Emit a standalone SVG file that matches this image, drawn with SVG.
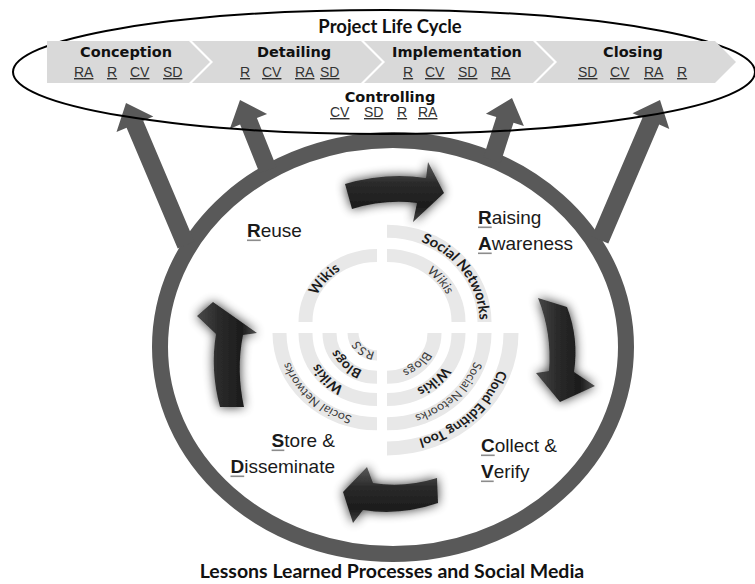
<svg xmlns="http://www.w3.org/2000/svg" width="755" height="584" viewBox="0 0 755 584">
  <defs>
    <style>
      .chev{fill:#d9d9d9}
      .ph{font-family:"DejaVu Sans",Verdana,sans-serif;font-weight:bold;font-size:14.5px;fill:#111;text-anchor:middle}
      .tag{font-family:"Liberation Sans",Arial,sans-serif;font-size:14px;fill:#333;text-decoration:underline}
      .ring{fill:none;stroke:#595959;stroke-width:16}
      .branch{fill:#595959}
      .band{fill:none;stroke:#e8e8e8;stroke-width:14}
      .lb{font-family:Lato,"Open Sans",sans-serif;font-weight:bold;fill:#1a1a1a;text-anchor:middle}
      .ln{font-family:Lato,"Open Sans",sans-serif;font-weight:normal;fill:#3a3a3a;text-anchor:middle}
      .step{font-family:"Liberation Sans",Arial,sans-serif;font-size:19px;fill:#1a1a1a}
      .k{font-weight:bold}
      .ul{fill:#8c8c8c}
      .title{font-family:Lato,"Open Sans",sans-serif;font-weight:bold;fill:#111;text-anchor:middle}
      .cyc{filter:url(#glow)}
    </style>
    <linearGradient id="shadeH" x1="0" y1="0" x2="0" y2="1">
      <stop offset="0" stop-color="#5a5a5a"/>
      <stop offset="0.35" stop-color="#2b2b2b"/>
      <stop offset="0.75" stop-color="#1c1c1c"/>
      <stop offset="1" stop-color="#444"/>
    </linearGradient>
    <linearGradient id="shadeV" x1="0" y1="0" x2="1" y2="0">
      <stop offset="0" stop-color="#4a4a4a"/>
      <stop offset="0.35" stop-color="#2b2b2b"/>
      <stop offset="0.75" stop-color="#1c1c1c"/>
      <stop offset="1" stop-color="#505050"/>
    </linearGradient>
    <filter id="glow" x="-50%" y="-50%" width="200%" height="200%">
      <feGaussianBlur in="SourceAlpha" stdDeviation="5.5" result="b"/>
      <feComponentTransfer in="b" result="s"><feFuncA type="linear" slope="0.8"/></feComponentTransfer>
      <feMerge><feMergeNode in="s"/><feMergeNode in="SourceGraphic"/></feMerge>
    </filter>
    <!-- baseline arcs for the tool labels, in quadrant-local coordinates -->
    <path id="q1sn" d="M8.07,-92.15 A92.5,92.5 0 0 1 89.35,23.94"/>
    <path id="q1wk" d="M0,-66.5 A66.5,66.5 0 0 1 65.49,11.55"/>
    <path id="q2wk" d="M-65.68,10.4 A66.5,66.5 0 0 1 1.16,-66.49"/>
    <path id="q3rss" d="M4.84,19.41 A20,20 0 0 1 -19.95,1.4"/>
    <path id="q3bl" d="M5.18,42.18 A42.5,42.5 0 0 1 -42.44,-2.22"/>
    <path id="q3wk" d="M5.8,66.25 A66.5,66.5 0 0 1 -66.25,-5.8"/>
    <path id="q3sn" d="M11.27,91.81 A92.5,92.5 0 0 1 -92.37,-4.84"/>
    <path id="q4bl" d="M42.47,-1.48 A42.5,42.5 0 0 1 -5.91,42.09"/>
    <path id="q4wk" d="M66.46,-2.32 A66.5,66.5 0 0 1 -9.25,65.85"/>
    <path id="q4sn" d="M92.27,-6.45 A92.5,92.5 0 0 1 -9.67,91.99"/>
    <path id="q4ct" d="M117.84,-6.18 A118,118 0 0 1 -14.38,117.12"/>
  </defs>

  <rect width="755" height="584" fill="#fff"/>

  <!-- lessons-learned ring with branches up to the project phases -->
  <g id="cycle-ring">
    <ellipse class="ring" cx="393" cy="347" rx="233" ry="207"/>
  </g>
  <g id="connectors">
    <polygon class="branch" points="177.7,248.5 126.6,127.7 116.5,132 126,103 153.3,116.4 143.2,120.7 194.3,241.5"/>
    <polygon class="branch" points="259.6,173.3 240.1,124.6 229.9,128.7 240,100 267.1,113.9 256.9,118 276.4,166.7"/>
    <polygon class="branch" points="483.4,157.2 496.3,117.1 485.9,113.8 512,98 523.9,126 513.5,122.7 500.6,162.8"/>
    <polygon class="branch" points="591.7,236.5 642.6,117.6 632.5,113.2 660,100 669.3,129 659.2,124.6 608.3,243.5"/>
  </g>

  <!-- project life cycle -->
  <g id="life-cycle">
    <ellipse cx="384" cy="72" rx="371" ry="62" fill="none" stroke="#000" stroke-width="2"/>
    <text class="title" x="390" y="33" font-size="18.5">Project Life Cycle</text>
  </g>

  <g id="phase-conception">
    <path class="chev" d="M47,41 H189 L210,62 L189,83 H47 Z"/>
    <text class="ph" x="126" y="57">Conception</text>
    <text class="tag" x="74" y="77">RA</text>
    <text class="tag" x="107" y="77">R</text>
    <text class="tag" x="130" y="77">CV</text>
    <text class="tag" x="163" y="77">SD</text>
  </g>
  <g id="phase-detailing">
    <path class="chev" d="M192,41 H361 L382,62 L361,83 H192 L213,62 Z"/>
    <text class="ph" x="294" y="57">Detailing</text>
    <text class="tag" x="240" y="77">R</text>
    <text class="tag" x="262" y="77">CV</text>
    <text class="tag" x="295" y="77">RA</text>
    <text class="tag" x="320" y="77">SD</text>
  </g>
  <g id="phase-implementation">
    <path class="chev" d="M364,41 H533 L554,62 L533,83 H364 L385,62 Z"/>
    <text class="ph" x="457" y="57">Implementation</text>
    <text class="tag" x="403" y="77">R</text>
    <text class="tag" x="425" y="77">CV</text>
    <text class="tag" x="458" y="77">SD</text>
    <text class="tag" x="491" y="77">RA</text>
  </g>
  <g id="phase-closing">
    <path class="chev" d="M536,41 H715 L736,62 L715,83 H536 L557,62 Z"/>
    <text class="ph" x="633" y="57">Closing</text>
    <text class="tag" x="578" y="77">SD</text>
    <text class="tag" x="610" y="77">CV</text>
    <text class="tag" x="644" y="77">RA</text>
    <text class="tag" x="677" y="77">R</text>
  </g>
  <g id="phase-controlling">
    <text class="ph" x="390" y="102">Controlling</text>
    <text class="tag" x="330" y="117">CV</text>
    <text class="tag" x="364" y="117">SD</text>
    <text class="tag" x="397" y="117">R</text>
    <text class="tag" x="418" y="117">RA</text>
  </g>

  <!-- social media tools per process, four quarter rings -->
  <g id="tools" transform="translate(382,327.5) scale(1,0.93)">
    <g id="tools-raising" transform="translate(5,-6)">
      <path class="band" d="M0,-71.5 A71.5,71.5 0 0 1 71.5,0"/>
      <path class="band" d="M0,-97.5 A97.5,97.5 0 0 1 97.5,0"/>
      <text class="lb" font-size="15"><textPath href="#q1sn" startOffset="50%">Social Networks</textPath></text>
      <text class="ln" font-size="13"><textPath href="#q1wk" startOffset="50%">Wikis</textPath></text>
    </g>
    <g id="tools-reuse" transform="translate(-5,-6)">
      <path class="band" d="M-71.5,0 A71.5,71.5 0 0 1 0,-71.5"/>
      <text class="lb" font-size="14.5"><textPath href="#q2wk" startOffset="50%">Wikis</textPath></text>
    </g>
    <g id="tools-store" transform="translate(-5,6)">
      <path class="band" style="stroke-width:11" d="M0,24 A24,24 0 0 1 -24,0"/>
      <path class="band" d="M0,47.5 A47.5,47.5 0 0 1 -47.5,0"/>
      <path class="band" d="M0,71.5 A71.5,71.5 0 0 1 -71.5,0"/>
      <path class="band" d="M0,97.5 A97.5,97.5 0 0 1 -97.5,0"/>
      <text class="ln" font-size="12.5"><textPath href="#q3rss" startOffset="50%">RSS</textPath></text>
      <text class="lb" font-size="14"><textPath href="#q3bl" startOffset="50%">Blogs</textPath></text>
      <text class="lb" font-size="14.5"><textPath href="#q3wk" startOffset="50%">Wikis</textPath></text>
      <text class="ln" font-size="12.5"><textPath href="#q3sn" startOffset="50%">Social Networks</textPath></text>
    </g>
    <g id="tools-collect" transform="translate(5,6)">
      <path class="band" d="M47.5,0 A47.5,47.5 0 0 1 0,47.5"/>
      <path class="band" d="M71.5,0 A71.5,71.5 0 0 1 0,71.5"/>
      <path class="band" d="M97.5,0 A97.5,97.5 0 0 1 0,97.5"/>
      <path class="band" style="stroke-width:15" d="M124,0 A124,124 0 0 1 0,124"/>
      <text class="ln" font-size="13"><textPath href="#q4bl" startOffset="50%">Blogs</textPath></text>
      <text class="lb" font-size="14.5"><textPath href="#q4wk" startOffset="50%">Wikis</textPath></text>
      <text class="ln" font-size="12.5"><textPath href="#q4sn" startOffset="50%">Social Netoorks</textPath></text>
      <text class="lb" font-size="14"><textPath href="#q4ct" startOffset="50%">Cloud Editing Tool</textPath></text>
    </g>
  </g>

  <!-- cycle arrows between the four processes -->
  <g id="cycle-arrows">
    <path class="cyc" fill="url(#shadeH)" d="M345,184 Q386,172 426,178 L428,162 L444,193 L413,222 L417,203 Q385,199 352,209 Z"/>
    <path class="cyc" fill="url(#shadeV)" d="M538,298 L567,307 Q579,338 574,372 L595,386 L560,402 L536,373 L549,371 Q552,333 538,298 Z"/>
    <path class="cyc" fill="url(#shadeH)" d="M437,478 Q405,488 373,483 L367,467 L343,492 L353,523 L363,510 Q400,516 438,503 Z"/>
    <path class="cyc" fill="url(#shadeV)" d="M220,407 Q210,370 216,334 L197,316 L213,302 L257,333 L243,335 Q236,370 244,407 Z"/>
  </g>

  <!-- process names -->
  <g id="step-reuse">
    <text class="step" x="247" y="237"><tspan class="k">R</tspan>euse</text>
    <rect class="ul" x="247" y="239.5" width="13.7" height="1.6"/>
  </g>
  <g id="step-raising">
    <text class="step" x="478" y="224"><tspan class="k">R</tspan>aising</text>
    <rect class="ul" x="478" y="226.5" width="13.7" height="1.6"/>
    <text class="step" x="478" y="250"><tspan class="k">A</tspan>wareness</text>
    <rect class="ul" x="478" y="252.5" width="13.7" height="1.6"/>
  </g>
  <g id="step-collect">
    <text class="step" x="481" y="452"><tspan class="k">C</tspan>ollect &amp;</text>
    <rect class="ul" x="481" y="454.5" width="13.7" height="1.6"/>
    <text class="step" x="481" y="478"><tspan class="k">V</tspan>erify</text>
    <rect class="ul" x="481" y="480.5" width="12.7" height="1.6"/>
  </g>
  <g id="step-store">
    <text class="step" x="335" y="447" text-anchor="end"><tspan class="k">S</tspan>tore &amp;</text>
    <rect class="ul" x="271.6" y="449.5" width="12.7" height="1.6"/>
    <text class="step" x="335" y="473" text-anchor="end"><tspan class="k">D</tspan>isseminate</text>
    <rect class="ul" x="230.5" y="475.5" width="13.7" height="1.6"/>
  </g>

  <text class="title" x="392" y="578" font-size="19.5">Lessons Learned Processes and Social Media</text>
</svg>
